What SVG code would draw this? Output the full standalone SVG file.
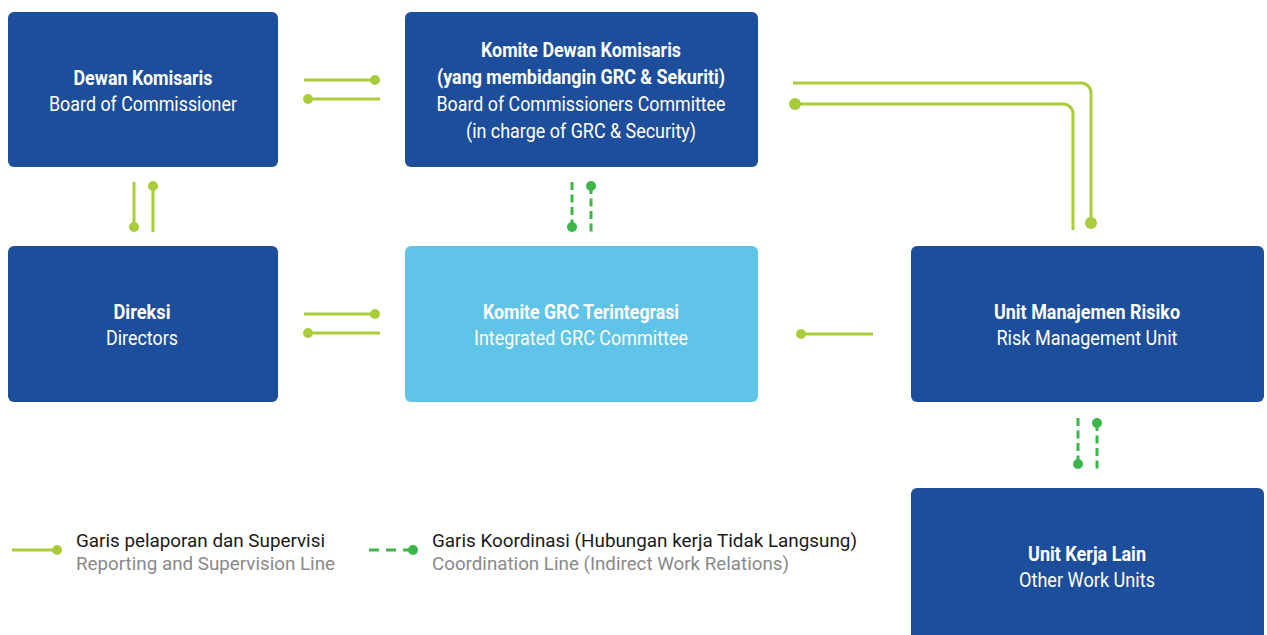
<svg xmlns="http://www.w3.org/2000/svg" width="1267" height="635" viewBox="0 0 1267 635">
<style>
.box{fill:#1d4e9b}
.lbox{fill:#60c3e8}
.t{font-family:Roboto,"Liberation Sans",sans-serif;font-size:21px;fill:#fff;text-anchor:middle}
.b{font-weight:bold}
.s{fill:none;stroke:#a9cd3a;stroke-width:3}
.d{fill:none;stroke:#3db54a;stroke-width:3;stroke-dasharray:8 4.5}
.sd{fill:#a9cd3a}
.dd{fill:#3db54a}
.lg{font-family:Roboto,"Liberation Sans",sans-serif;font-size:17.5px}
</style>
<rect width="1267" height="635" fill="#fff"/>
<g id="n-dewan">
<rect class="box" x="8" y="12" width="270" height="155" rx="6"/>
<text class="t b" x="143" y="85" textLength="139" lengthAdjust="spacingAndGlyphs">Dewan Komisaris</text>
<text class="t" x="143" y="111" textLength="188" lengthAdjust="spacingAndGlyphs">Board of Commissioner</text>
</g>
<g id="n-komite-dk">
<rect class="box" x="405" y="12" width="353" height="155" rx="6"/>
<text class="t b" x="581" y="57" textLength="200" lengthAdjust="spacingAndGlyphs">Komite Dewan Komisaris</text>
<text class="t b" x="581" y="84" textLength="288" lengthAdjust="spacingAndGlyphs">(yang membidangin GRC &amp; Sekuriti)</text>
<text class="t" x="581" y="111" textLength="289" lengthAdjust="spacingAndGlyphs">Board of Commissioners Committee</text>
<text class="t" x="581" y="138" textLength="230" lengthAdjust="spacingAndGlyphs">(in charge of GRC &amp; Security)</text>
</g>
<g id="n-direksi">
<rect class="box" x="8" y="246" width="270" height="156" rx="6"/>
<text class="t b" x="142" y="319" textLength="57" lengthAdjust="spacingAndGlyphs">Direksi</text>
<text class="t" x="142" y="345" textLength="72" lengthAdjust="spacingAndGlyphs">Directors</text>
</g>
<g id="n-grc">
<rect class="lbox" x="405" y="246" width="353" height="156" rx="6"/>
<text class="t b" x="581" y="319" textLength="196" lengthAdjust="spacingAndGlyphs">Komite GRC Terintegrasi</text>
<text class="t" x="581" y="345" textLength="214" lengthAdjust="spacingAndGlyphs">Integrated GRC Committee</text>
</g>
<g id="n-risiko">
<rect class="box" x="911" y="246" width="353" height="156" rx="6"/>
<text class="t b" x="1087" y="319" textLength="186" lengthAdjust="spacingAndGlyphs">Unit Manajemen Risiko</text>
<text class="t" x="1087" y="345" textLength="181" lengthAdjust="spacingAndGlyphs">Risk Management Unit</text>
</g>
<g id="n-lain">
<rect class="box" x="911" y="488" width="353" height="160" rx="6"/>
<text class="t b" x="1087" y="561" textLength="118" lengthAdjust="spacingAndGlyphs">Unit Kerja Lain</text>
<text class="t" x="1087" y="587" textLength="136" lengthAdjust="spacingAndGlyphs">Other Work Units</text>
</g>
<g id="connectors">
<path class="s" d="M304 80H375"/><circle class="sd" cx="375" cy="80" r="5"/>
<path class="s" d="M308 99H380"/><circle class="sd" cx="308" cy="99" r="5"/>
<path class="s" d="M134 182V227"/><circle class="sd" cx="134" cy="227" r="5"/>
<path class="s" d="M153 186V232"/><circle class="sd" cx="153" cy="186" r="5"/>
<path class="d" d="M572 182V227"/><circle class="dd" cx="572" cy="227" r="5"/>
<path class="d" d="M591 186V232"/><circle class="dd" cx="591" cy="186" r="5"/>
<path class="s" d="M304 314H375"/><circle class="sd" cx="375" cy="314" r="5"/>
<path class="s" d="M308 333H380"/><circle class="sd" cx="308" cy="333" r="5"/>
<path class="s" d="M801 334H873"/><circle class="sd" cx="801" cy="334" r="5"/>
<path class="s" d="M793 83H1081A10 10 0 0 1 1091 93V223"/><circle class="sd" cx="1091" cy="223" r="6"/>
<path class="s" d="M795 104H1063A10 10 0 0 1 1073 114V230"/><circle class="sd" cx="795" cy="104" r="6"/>
<path class="d" d="M1078 418V464"/><circle class="dd" cx="1078" cy="464" r="5"/>
<path class="d" d="M1097 423V469"/><circle class="dd" cx="1097" cy="423" r="5"/>
</g>
<g id="legend">
<path class="s" d="M12 550H57"/><circle class="sd" cx="57" cy="550" r="5"/>
<text class="lg" x="76" y="547" fill="#1a1a1a" textLength="249" lengthAdjust="spacingAndGlyphs">Garis pelaporan dan Supervisi</text>
<text class="lg" x="76" y="570" fill="#8a8a8a" textLength="259" lengthAdjust="spacingAndGlyphs">Reporting and Supervision Line</text>
<path class="d" d="M369 550H413" style="stroke-dasharray:10 7"/><circle class="dd" cx="413" cy="550" r="5"/>
<text class="lg" x="432" y="547" fill="#1a1a1a" textLength="425" lengthAdjust="spacingAndGlyphs">Garis Koordinasi (Hubungan kerja Tidak Langsung)</text>
<text class="lg" x="432" y="570" fill="#8a8a8a" textLength="357" lengthAdjust="spacingAndGlyphs">Coordination Line (Indirect Work Relations)</text>
</g>
</svg>
